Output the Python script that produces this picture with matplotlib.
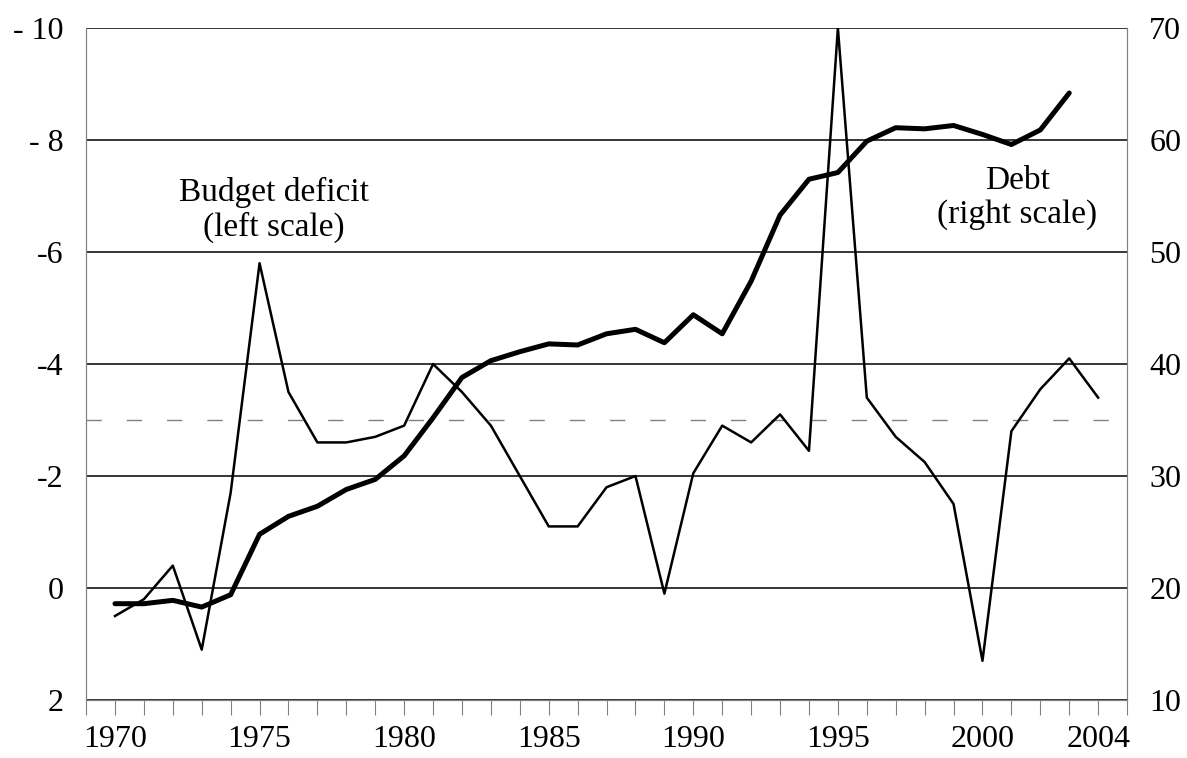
import matplotlib
matplotlib.use("Agg")
import matplotlib.pyplot as plt
import numpy as np

#-------------------- DATA -------------------#
years = list(range(1970, 2005))

# budget deficit, % (left scale, inverted)
deficit = [0.5, 0.2, -0.4, 1.1, -1.7, -5.8, -3.5, -2.6, -2.6, -2.7,
           -2.9, -4.0, -3.5, -2.9, -2.0, -1.1, -1.1, -1.8, -2.0, 0.1,
           -2.05, -2.9, -2.6, -3.1, -2.45, -10.0, -3.4, -2.7, -2.25, -1.5,
           1.3, -2.8, -3.55, -4.1, -3.4]

# debt, % (right scale), ends in 2003
debt_years = list(range(1970, 2004))
debt = [18.6, 18.6, 18.9, 18.3, 19.4, 24.8, 26.4, 27.3, 28.8, 29.7,
        31.8, 35.2, 38.8, 40.3, 41.1, 41.8, 41.7, 42.7, 43.1, 41.9,
        44.4, 42.7, 47.4, 53.3, 56.5, 57.1, 59.9, 61.1, 61.0, 61.3,
        60.5, 59.6, 60.9, 64.2]

left_ticks = [-10, -8, -6, -4, -2, 0, 2]
left_labels = ['- 10', '- 8', '-6', '-4', '-2', '0', '2']
right_ticks = [10, 20, 30, 40, 50, 60, 70]
x_labels = [1970, 1975, 1980, 1985, 1990, 1995, 2000, 2004]
ref_level = -3

#------------------ PLOT -------------------#
plt.rcParams['font.family'] = ['Liberation Serif', 'DejaVu Serif']
plt.rcParams['font.size'] = 23

fig = plt.figure(figsize=(11.87, 7.58), dpi=100)
ax = fig.add_axes([0.0725, 0.0765, 0.877, 0.8865])
ax2 = ax.twinx()

ax.set_xlim(1969, 2005)
ax.set_ylim(2, -10)
ax2.set_ylim(10, 70)

# horizontal grid
for t in left_ticks:
    ax.axhline(t, color='black', lw=1.1, zorder=1)
ax.axhline(ref_level, color='#808080', lw=1.0, dashes=(11, 18), zorder=1)

ax2.plot(debt_years, debt, color='black', lw=3.6, solid_capstyle='round',
         solid_joinstyle='round', zorder=3)
ax.plot(years, deficit, color='black', lw=1.8, zorder=4)
ax.set_zorder(ax2.get_zorder() + 1)
ax.patch.set_visible(False)

ax.set_yticks(left_ticks)
ax.set_yticklabels(left_labels)
ax2.set_yticks(right_ticks)

ax.set_xticks(range(1969, 2006))
ax.set_xticklabels([str(y) if y in x_labels else '' for y in range(1969, 2006)])
ax.tick_params(axis='x', direction='out', length=11, width=0.8, color='#808080', pad=7)
ax.tick_params(axis='y', length=0, pad=16)
ax2.tick_params(axis='y', length=0, pad=16)

for a in (ax, ax2):
    a.spines['top'].set_visible(False)
    a.spines['left'].set_color('#808080')
    a.spines['right'].set_color('#808080')
    a.spines['bottom'].set_color('#808080')

ax.text(1975.5, -6.75, 'Budget deficit\n(left scale)', ha='center', va='center',
        linespacing=1.15, fontsize=24)
ax.text(2001.2, -6.97, 'Debt\n(right scale)', ha='center', va='center',
        linespacing=1.15, fontsize=24)

plt.savefig('out.png', dpi=100)
